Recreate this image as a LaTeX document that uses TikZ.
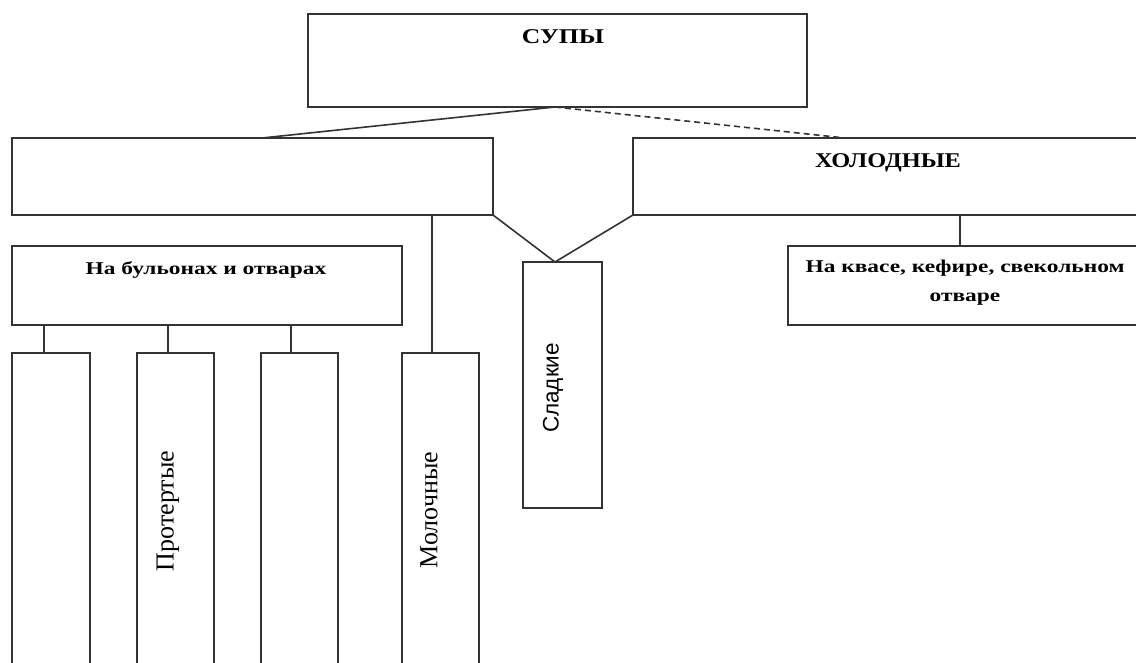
\documentclass[tikz,border=0pt]{standalone}
\usepackage{fontspec}
\setmainfont{Liberation Serif}
\newfontfamily\sansfnt{Liberation Sans}
\usetikzlibrary{calc}
\begin{document}
\begin{tikzpicture}[x=1pt,y=-1pt,
  box/.style={draw=black!80,line width=1.6pt,rectangle,inner sep=0pt,outer sep=0pt},
  conn/.style={draw=black!80,line width=1.6pt},
  head/.style={font=\bfseries\fontsize{21}{24}\selectfont,inner sep=0pt},
  sub/.style={font=\bfseries\fontsize{18}{29}\selectfont,inner sep=0pt,align=center},
  vert/.style={rotate=90,inner sep=0pt}]
\useasboundingbox (0,0) rectangle (1136,662);
\clip (0,0) rectangle (1136,662);
\fill[white] (0,0) rectangle (1136,662);
% boxes
\node[box,minimum width=499pt,minimum height=93pt] (supy) at (557.5,60.5) {};
\node[box,minimum width=481pt,minimum height=77pt] (hot) at (252.5,176.5) {};
\node[box,minimum width=527pt,minimum height=77pt] (cold) at (896.5,176.5) {};
\node[box,minimum width=390pt,minimum height=79pt] (broth) at (207,285.5) {};
\node[box,minimum width=372pt,minimum height=79pt] (kvas) at (974,285.5) {};
\node[box,minimum width=79pt,minimum height=246pt] (sweet) at (562.5,385) {};
\node[box,minimum width=78pt,minimum height=347pt] (b1) at (51,526.5) {};
\node[box,minimum width=77pt,minimum height=347pt] (b2) at (175.5,526.5) {};
\node[box,minimum width=77pt,minimum height=347pt] (b3) at (299.5,526.5) {};
\node[box,minimum width=77pt,minimum height=347pt] (b4) at (440.5,526.5) {};
% texts
\node[head] (tsupy) at (563,37) {\scalebox{1.22}[1]{СУПЫ}};
\node[head] (tcold) at (888,163) {\scalebox{1.16}[1]{ХОЛОДНЫЕ}};
\node[sub] (tbroth) at (206,270) {\scalebox{1.3}[1]{На бульонах и отварах}};
\node[sub] (tkvas) at (965,283) {\scalebox{1.3}[1]{На квасе, кефире, свекольном}\\\scalebox{1.3}[1]{отваре}};
\node[vert,font=\sansfnt\fontsize{22.5}{24}\selectfont] (tsweet) at (553,388) {Сладкие};
\node[vert,font=\fontsize{26}{28}\selectfont] (tprot) at (168,511) {Протертые};
\node[vert,font=\fontsize{26}{28}\selectfont] (tmilk) at (429,510) {Молочные};
% connectors
\coordinate (top) at (555,0 |- supy.south);
\draw[conn] (top) -- (262,0 |- hot.north);
\draw[conn,dash pattern=on 6pt off 4pt] (top) -- (845,0 |- cold.north);
\coordinate (apex) at (555,0 |- sweet.north);
\draw[conn] (hot.south east) -- (apex) -- (cold.south west);
\draw[conn] (960,0 |- cold.south) -- (960,0 |- kvas.north);
\draw[conn] (44,0 |- broth.south) -- (44,0 |- b1.north);
\draw[conn] (168,0 |- broth.south) -- (168,0 |- b2.north);
\draw[conn] (291,0 |- broth.south) -- (291,0 |- b3.north);
\draw[conn] (432,0 |- hot.south) -- (432,0 |- b4.north);
\end{tikzpicture}
\end{document}
